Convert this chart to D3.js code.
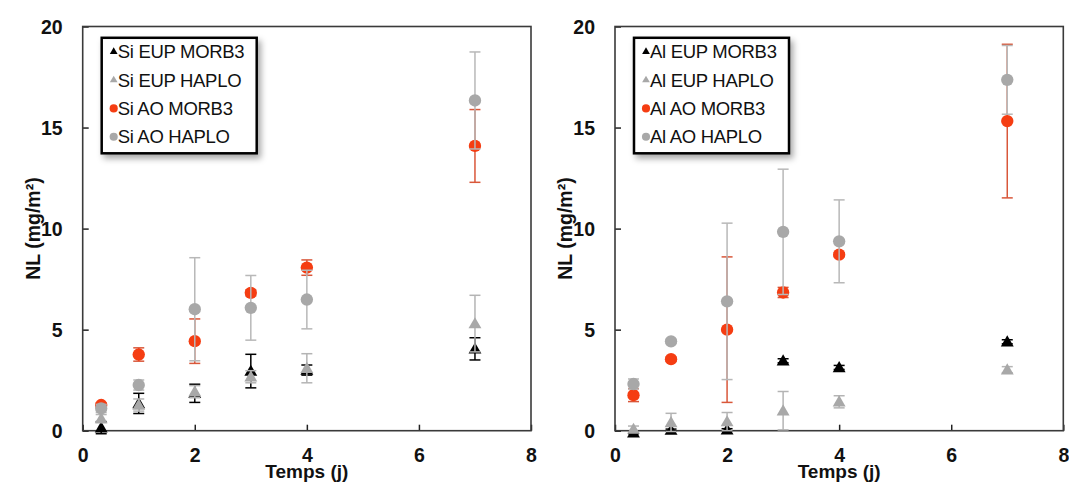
<!DOCTYPE html>
<html>
<head>
<meta charset="utf-8">
<script src="https://cdn.jsdelivr.net/npm/d3@7"></script>
<style>
  html, body { margin: 0; padding: 0; background: #fff; }
  svg { display: block; font-family: Arial, "Liberation Sans", sans-serif; }
</style>
</head>
<body>
<svg id="chart" width="1069" height="483"></svg>
<script>
// ---- data ----
const times = [0.33, 1, 2, 3, 4, 7];
const xTicks = [0, 2, 4, 6, 8];
const yTicks = [0, 5, 10, 15, 20];

// Si panel
const siNames = ["Si EUP MORB3", "Si EUP HAPLO", "Si AO MORB3", "Si AO HAPLO"];
const siEupMorb3 = [0.15, 1.35, 1.85, 2.95, 3.0, 4.05];
const siEupMorb3Err = [0.3, 0.5, 0.45, 0.83, 0.25, 0.55];
const siEupHaplo = [0.6, 1.27, 1.93, 2.67, 3.09, 5.3];
const siEupHaploErr = [0.2, 0.3, 0.3, 0.3, 0.72, 1.4];
const siAoMorb3 = [1.27, 3.77, 4.43, 6.82, 8.07, 14.09];
const siAoMorb3Err = [0.1, 0.33, 1.1, 0.15, 0.38, 1.8];
const siAoHaplo = [1.1, 2.26, 6.01, 6.08, 6.49, 16.34];
const siAoHaploErr = [0.2, 0.25, 2.55, 1.6, 1.45, 2.4];

// Al panel
const alNames = ["Al EUP MORB3", "Al EUP HAPLO", "Al AO MORB3", "Al AO HAPLO"];
const alEupMorb3 = [-0.1, 0.03, 0.05, 3.46, 3.13, 4.4];
const alEupMorb3Err = [0.05, 0.05, 0.05, 0.1, 0.1, 0.1];
const alEupHaplo = [0.08, 0.41, 0.45, 0.99, 1.43, 3.02];
const alEupHaploErr = [0.15, 0.45, 0.45, 0.95, 0.3, 0.15];
const alAoMorb3 = [1.76, 3.54, 5.0, 6.84, 8.71, 15.32];
const alAoMorb3Err = [0.32, 0.1, 3.6, 0.25, 0.1, 3.8];
const alAoHaplo = [2.31, 4.42, 6.4, 9.84, 9.37, 17.36];
const alAoHaploErr = [0.25, 0.1, 3.87, 3.1, 2.05, 1.7];

// ---- styles ----
const seriesStyle = [
  { shape: "triangle", fill: "#000000", err: "#000000" },
  { shape: "triangle", fill: "#a8a8a8", err: "#b4b4b4" },
  { shape: "circle",   fill: "#f53d12", err: "#d9573a" },
  { shape: "circle",   fill: "#a8a8a8", err: "#b8b8b8" }
];

const svg = d3.select("#chart");
const defs = svg.append("defs");
const f = defs.append("filter").attr("id", "shadow")
  .attr("x", "-10%").attr("y", "-10%").attr("width", "130%").attr("height", "130%");
f.append("feDropShadow").attr("dx", 3).attr("dy", 4).attr("stdDeviation", 3)
  .attr("flood-color", "#000").attr("flood-opacity", 0.35);

function panel(left, names, vals, errs) {
  const top = 26.5, bottom = 430.7, width = 448.3;
  const x = d3.scaleLinear().domain([0, 8]).range([left, left + width]);
  const y = d3.scaleLinear().domain([0, 20]).range([bottom, top]);
  const g = svg.append("g");

  // axes
  const xAxis = d3.axisBottom(x).tickValues(xTicks).tickSizeInner(-6).tickSizeOuter(0).tickPadding(17);
  const yAxis = d3.axisLeft(y).tickValues(yTicks).tickSizeInner(-6).tickSizeOuter(0).tickPadding(20);
  const gx = g.append("g").attr("transform", `translate(0,${bottom})`).call(xAxis);
  const gy = g.append("g").attr("transform", `translate(${left},0)`).call(yAxis);
  [gx, gy].forEach(a => {
    a.select(".domain").remove();
    a.selectAll(".tick line").attr("stroke", "#222").attr("stroke-width", 1.5);
    a.selectAll(".tick text").attr("fill", "#111").style("font-size", "19.5px").style("font-weight", "bold");
  });
  gx.selectAll(".tick text").attr("dy", "0.71em");
  gy.selectAll(".tick text").attr("dy", "0.35em");
  // frame
  g.append("rect").attr("x", x(0)).attr("y", y(20)).attr("width", x(8) - x(0)).attr("height", y(0) - y(20))
    .attr("fill", "none").attr("stroke", "#3a3a3a").attr("stroke-width", 1.6);

  // titles
  g.append("text").attr("x", (x(0) + x(8)) / 2).attr("y", 478).attr("text-anchor", "middle")
    .style("font-size", "19px").style("font-weight", "bold").attr("fill", "#111").text("Temps (j)");
  g.append("text").attr("transform", `translate(${left - 50},${(top + bottom) / 2}) rotate(-90)`)
    .attr("text-anchor", "middle").attr("dy", "0.35em")
    .style("font-size", "19.5px").style("font-weight", "bold").attr("fill", "#111").text("NL (mg/m²)");

  // series
  const tri = d3.symbol().type(d3.symbolTriangle).size(72);
  const circ = d3.symbol().type(d3.symbolCircle).size(120);
  vals.forEach((sv, si) => {
    const st = seriesStyle[si];
    const sg = g.append("g");
    const pts = times.map((t, i) => ({ t, v: sv[i], e: errs[si][i] }));
    const eb = sg.selectAll("g.eb").data(pts).enter().append("g")
      .attr("stroke", st.err).attr("stroke-width", 1.5);
    eb.append("line").attr("x1", d => x(d.t)).attr("x2", d => x(d.t))
      .attr("y1", d => y(d.v - d.e)).attr("y2", d => y(d.v + d.e));
    eb.append("line").attr("x1", d => x(d.t) - 5.5).attr("x2", d => x(d.t) + 5.5)
      .attr("y1", d => y(d.v + d.e)).attr("y2", d => y(d.v + d.e));
    eb.append("line").attr("x1", d => x(d.t) - 5.5).attr("x2", d => x(d.t) + 5.5)
      .attr("y1", d => y(d.v - d.e)).attr("y2", d => y(d.v - d.e));
    sg.selectAll("path.m").data(pts).enter().append("path")
      .attr("d", st.shape === "triangle" ? tri() : circ())
      .attr("transform", d => `translate(${x(d.t)},${y(d.v) + (st.shape === "triangle" ? 1 : 0)})`)
      .attr("fill", st.fill);
  });

  // legend
  const lx = left + 19, ly = 37.8, lw = 155, lh = 115.5;
  const lg = g.append("g");
  lg.append("rect").attr("x", lx).attr("y", ly).attr("width", lw).attr("height", lh)
    .attr("fill", "#fff").attr("stroke", "#000").attr("stroke-width", 2.5).attr("filter", "url(#shadow)");
  const ltri = d3.symbol().type(d3.symbolTriangle).size(26);
  const lcirc = d3.symbol().type(d3.symbolCircle).size(52);
  names.forEach((n, i) => {
    const cy = ly + 14 + i * 28.3;
    const st = seriesStyle[i];
    lg.append("path").attr("d", st.shape === "triangle" ? ltri() : lcirc())
      .attr("transform", `translate(${lx + 12},${cy})`).attr("fill", st.fill);
    lg.append("text").attr("x", lx + 16).attr("y", cy).attr("dy", "0.36em")
      .style("font-size", "18.5px").style("letter-spacing", "-0.3px").attr("fill", "#111").text(n);
  });
}

panel(82.7, siNames,
  [siEupMorb3, siEupHaplo, siAoMorb3, siAoHaplo],
  [siEupMorb3Err, siEupHaploErr, siAoMorb3Err, siAoHaploErr]);
panel(615, alNames,
  [alEupMorb3, alEupHaplo, alAoMorb3, alAoHaplo],
  [alEupMorb3Err, alEupHaploErr, alAoMorb3Err, alAoHaploErr]);
</script>
</body>
</html>
